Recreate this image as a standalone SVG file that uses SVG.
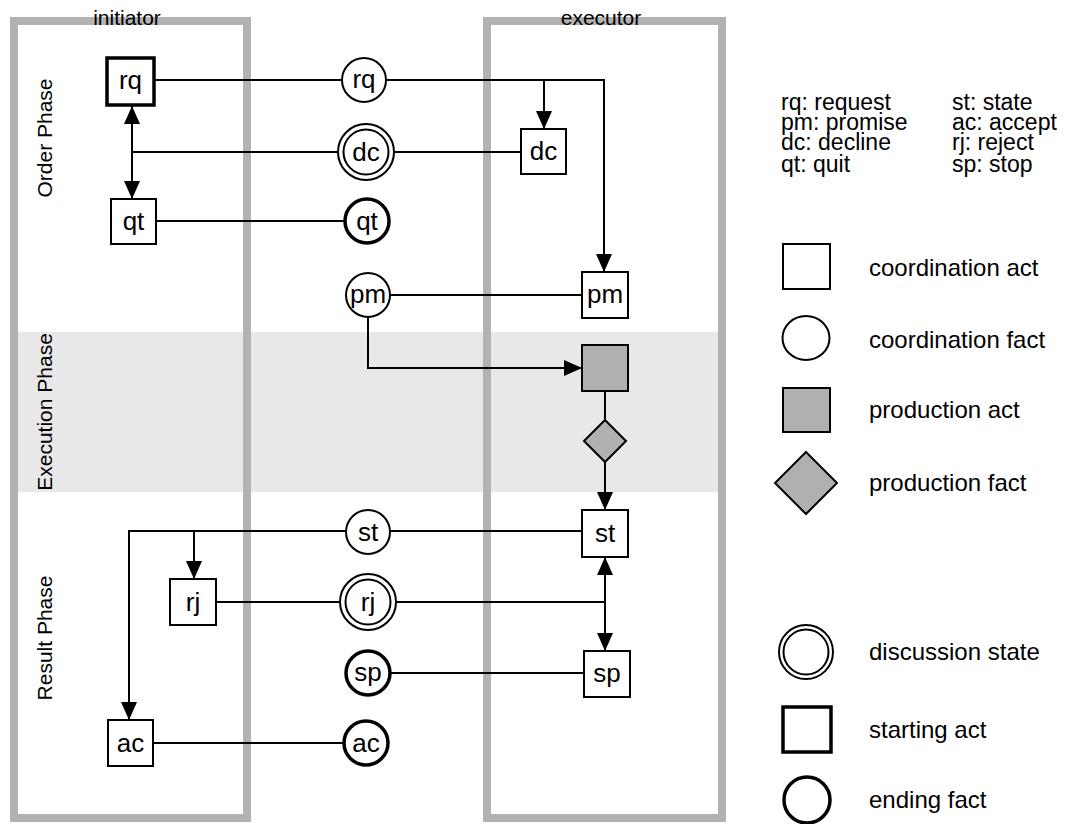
<svg xmlns="http://www.w3.org/2000/svg" width="1070" height="824" viewBox="0 0 1070 824">
<style>
text{font-family:"Liberation Sans",Arial,Helvetica,sans-serif;fill:#000}
.lane{fill:none;stroke:#b2b2b2;stroke-width:8}
.lbl{font-size:21px}
.nt{font-size:26px;text-anchor:middle}
.lg{font-size:24px}
.ab{font-size:23px}
.act{fill:#fff;stroke:#000;stroke-width:2}
.fact{fill:#fff;stroke:#000;stroke-width:2}
.thick{stroke-width:3.5}
.prod{fill:#b0b0b0;stroke:#000;stroke-width:2}
.con{fill:none;stroke:#000;stroke-width:2}
</style>
<defs>
<marker id="ah" viewBox="0 0 18 16" refX="18" refY="8" markerWidth="18" markerHeight="16" markerUnits="userSpaceOnUse" orient="auto-start-reverse">
<path d="M0,0 L18,8 L0,16 z" fill="#000"/>
</marker>
</defs>
<rect width="1070" height="824" fill="#fff"/>
<g id="phases">
<rect x="14" y="332" width="708" height="160" fill="#e8e8e8"/>
<text class="lbl" transform="translate(52,138) rotate(-90)" text-anchor="middle">Order Phase</text>
<text class="lbl" transform="translate(52,412) rotate(-90)" text-anchor="middle">Execution Phase</text>
<text class="lbl" transform="translate(52,638) rotate(-90)" text-anchor="middle">Result Phase</text>
</g>
<g id="lane-initiator">
<rect class="lane" x="14" y="21" width="233" height="797"/>
<text class="lbl" x="127" y="25" text-anchor="middle">initiator</text>
</g>
<g id="lane-executor">
<rect class="lane" x="487" y="21" width="235" height="797"/>
<text class="lbl" x="601" y="25" text-anchor="middle">executor</text>
</g>
<g id="connectors">
<path class="con" d="M154,80 H342"/>
<path class="con" d="M386,80 H604 V272" marker-end="url(#ah)"/>
<path class="con" d="M544,80 V129" marker-end="url(#ah)"/>
<path class="con" d="M338,152 H132"/>
<path class="con" d="M132,106 V199" marker-start="url(#ah)" marker-end="url(#ah)"/>
<path class="con" d="M394,152 H521"/>
<path class="con" d="M156,221 H345"/>
<path class="con" d="M390,295 H582"/>
<path class="con" d="M368,317 V368 H582" marker-end="url(#ah)"/>
<path class="con" d="M605,391 V420"/>
<path class="con" d="M605,462 V510" marker-end="url(#ah)"/>
<path class="con" d="M346,531 H129 V720" marker-end="url(#ah)"/>
<path class="con" d="M194,531 V579" marker-end="url(#ah)"/>
<path class="con" d="M390,531 H582"/>
<path class="con" d="M216,602 H340"/>
<path class="con" d="M396,602 H605"/>
<path class="con" d="M605,557 V651" marker-start="url(#ah)" marker-end="url(#ah)"/>
<path class="con" d="M390,673 H584"/>
<path class="con" d="M153,743 H344"/>
</g>
<g id="rq-act"><rect class="act thick" x="107" y="58" width="47" height="47"/><text class="nt" x="130.5" y="89">rq</text></g>
<g id="qt-act"><rect class="act" x="111" y="199" width="45" height="45"/><text class="nt" x="133.5" y="230">qt</text></g>
<g id="rj-act"><rect class="act" x="170" y="579" width="46" height="46"/><text class="nt" x="193" y="611">rj</text></g>
<g id="ac-act"><rect class="act" x="108" y="720" width="45" height="46"/><text class="nt" x="130.5" y="752">ac</text></g>
<g id="rq-fact"><circle class="fact" cx="364" cy="80" r="22"/><text class="nt" x="364" y="88">rq</text></g>
<g id="dc-fact"><circle class="fact" cx="366" cy="152" r="28"/><circle class="fact" cx="366" cy="152" r="22.5"/><text class="nt" x="366" y="161">dc</text></g>
<g id="qt-fact"><circle class="fact thick" cx="367" cy="221" r="22"/><text class="nt" x="367" y="230">qt</text></g>
<g id="pm-fact"><circle class="fact" cx="368" cy="295" r="22"/><text class="nt" x="368" y="303">pm</text></g>
<g id="st-fact"><circle class="fact" cx="368" cy="532" r="22"/><text class="nt" x="368" y="541">st</text></g>
<g id="rj-fact"><circle class="fact" cx="368" cy="602" r="28"/><circle class="fact" cx="368" cy="602" r="22.5"/><text class="nt" x="368" y="611">rj</text></g>
<g id="sp-fact"><circle class="fact thick" cx="368" cy="673" r="22"/><text class="nt" x="368" y="681">sp</text></g>
<g id="ac-fact"><circle class="fact thick" cx="366" cy="743" r="22"/><text class="nt" x="366" y="752">ac</text></g>
<g id="dc-act"><rect class="act" x="521" y="129" width="45" height="45"/><text class="nt" x="543.5" y="160">dc</text></g>
<g id="pm-act"><rect class="act" x="582" y="272" width="46" height="46"/><text class="nt" x="605" y="303">pm</text></g>
<g id="production-act"><rect class="prod" x="582" y="345" width="46" height="46"/></g>
<g id="production-fact"><polygon class="prod" points="605,420 626,441 605,462 584,441"/></g>
<g id="st-act"><rect class="act" x="582" y="510" width="46" height="47"/><text class="nt" x="605" y="542">st</text></g>
<g id="sp-act"><rect class="act" x="584" y="651" width="46" height="46"/><text class="nt" x="607" y="682">sp</text></g>
<g id="legend">
<text class="ab" x="781" y="110">rq: request</text>
<text class="ab" x="781" y="130">pm: promise</text>
<text class="ab" x="781" y="150">dc: decline</text>
<text class="ab" x="781" y="172">qt: quit</text>
<text class="ab" x="952" y="110">st: state</text>
<text class="ab" x="952" y="130">ac: accept</text>
<text class="ab" x="952" y="150">rj: reject</text>
<text class="ab" x="952" y="172">sp: stop</text>
<rect class="act" x="783" y="244" width="47" height="45"/>
<text class="lg" x="869" y="276">coordination act</text>
<ellipse class="fact" cx="806" cy="338" rx="23.5" ry="22"/>
<text class="lg" x="869" y="348">coordination fact</text>
<rect class="prod" x="783" y="388" width="47" height="44"/>
<text class="lg" x="869" y="418">production act</text>
<polygon class="prod" points="806,452 837,483 806,514 775,483"/>
<text class="lg" x="869" y="491">production fact</text>
<circle class="fact" cx="806" cy="652" r="27"/>
<circle class="fact" cx="806" cy="652" r="22.5"/>
<text class="lg" x="869" y="660">discussion state</text>
<rect class="act thick" x="783" y="707" width="48" height="45"/>
<text class="lg" x="869" y="738">starting act</text>
<circle class="fact thick" cx="807" cy="800" r="23"/>
<text class="lg" x="869" y="808">ending fact</text>
</g>
</svg>
